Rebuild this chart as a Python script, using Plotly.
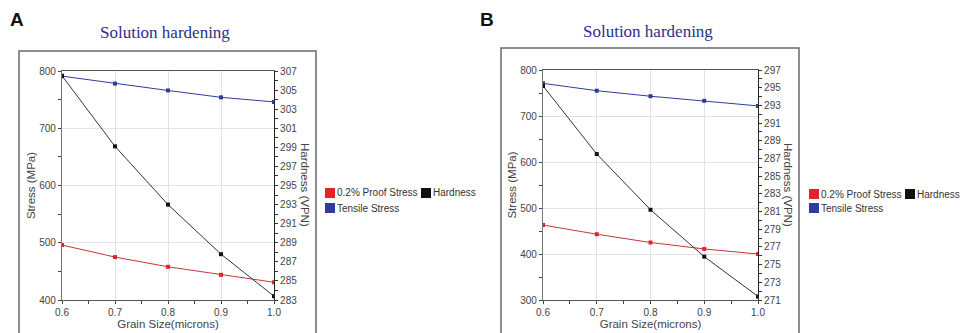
import plotly.graph_objects as go

grain = [0.6, 0.7, 0.8, 0.9, 1.0]

# Panel A
a_tensile = [791, 778, 766, 754, 746]
a_proof = [496, 475, 458, 444, 431]
a_hard = [306.5, 299.1, 293.0, 287.8, 283.4]

# Panel B
b_tensile = [771, 755, 743, 733, 722]
b_proof = [463, 443, 425, 411, 400]
b_hard = [295.2, 287.5, 281.2, 275.9, 271.4]

panel_labels = ["A", "B"]
title_text = "Solution hardening"
legend_names = ["0.2% Proof Stress", "Hardness", "Tensile Stress"]

RED = "#e3232a"
REDL = "#c8343a"
BLUE = "#2f3c9e"
BLACK = "#111111"
W, H = 960, 333

fig = go.Figure()

def add_panel(xa, yl, yr, tensile, proof, hard):
    fig.add_trace(go.Scatter(x=grain, y=tensile, xaxis=xa, yaxis=yl, mode="lines+markers",
                             line=dict(color=BLUE, width=1), marker=dict(symbol="square", size=4, color=BLUE),
                             showlegend=False, name="Tensile Stress"))
    fig.add_trace(go.Scatter(x=grain, y=proof, xaxis=xa, yaxis=yl, mode="lines+markers",
                             line=dict(color=REDL, width=1), marker=dict(symbol="square", size=4, color=RED),
                             showlegend=False, name="0.2% Proof Stress"))
    fig.add_trace(go.Scatter(x=grain, y=hard, xaxis=xa, yaxis=yr, mode="lines+markers",
                             line=dict(color="#333333", width=1), marker=dict(symbol="square", size=4, color=BLACK),
                             showlegend=False, name="Hardness"))

add_panel("x", "y", "y2", a_tensile, a_proof, a_hard)
add_panel("x2", "y3", "y4", b_tensile, b_proof, b_hard)

tickfont = dict(family="Liberation Sans, Arial", size=10, color="#444444")
titlefont = dict(family="Liberation Sans, Arial", size=11.5, color="#444444")
TK = "#444444"

def xaxis_cfg(dom, anchor):
    return dict(domain=dom, anchor=anchor, range=[0.6, 1.0], dtick=0.1, tick0=0.6, tickformat=".1f",
                showgrid=True, gridcolor="#e2e2e2", gridwidth=1, zeroline=False,
                showline=True, linecolor="#555555", linewidth=1.2, mirror=True,
                ticks="outside", ticklen=3, tickcolor=TK,
                minor=dict(dtick=0.05, ticks="outside", ticklen=3, tickcolor=TK, showgrid=False),
                tickfont=tickfont, title=dict(text="Grain Size(microns)", font=titlefont, standoff=0),
                automargin=False, fixedrange=True)

def xinner_cfg(overlay, anchor):
    return dict(overlaying=overlay, anchor=anchor, range=[0.6, 1.0], dtick=0.1, tick0=0.6,
                showgrid=False, zeroline=False, showline=False, showticklabels=False,
                ticks="inside", ticklen=3, tickcolor=TK,
                minor=dict(dtick=0.05, ticks="inside", ticklen=3, tickcolor=TK, showgrid=False),
                automargin=False, fixedrange=True)

def yleft_cfg(dom, anchor, rng):
    return dict(domain=dom, anchor=anchor, range=rng, dtick=100, tick0=0,
                showgrid=True, gridcolor="#e2e2e2", gridwidth=1, zeroline=False,
                showline=True, linecolor="#777777", linewidth=1.2,
                ticks="outside", ticklen=3, tickcolor=TK,
                minor=dict(dtick=50, ticks="outside", ticklen=3, tickcolor=TK, showgrid=False),
                tickfont=tickfont, title=dict(text="Stress (MPa)", font=titlefont, standoff=1),
                automargin=False, fixedrange=True)

def yleft_inner_cfg(overlay, anchor, rng):
    return dict(overlaying=overlay, anchor=anchor, range=rng, dtick=100, tick0=0,
                showgrid=False, zeroline=False, showline=False, showticklabels=False,
                ticks="inside", ticklen=3, tickcolor=TK,
                minor=dict(dtick=50, ticks="inside", ticklen=3, tickcolor=TK, showgrid=False),
                automargin=False, fixedrange=True)

def yright_cfg(anchor, overlay, rng, labels=True, ticks="outside"):
    return dict(overlaying=overlay, anchor=anchor, side="right", range=rng, dtick=2, tick0=rng[0],
                showgrid=False, zeroline=False, showline=labels, linecolor="#222222", linewidth=1.2,
                ticks=ticks, ticklen=3, tickcolor="#333333", showticklabels=labels,
                minor=dict(dtick=1, ticks=ticks, ticklen=3, tickcolor="#333333"),
                tickfont=tickfont, automargin=False, fixedrange=True)

ydomA = [33 / H, 262 / H]
ydomB = [33 / H, 263 / H]
fig.update_layout(
    width=W, height=H, autosize=False, margin=dict(l=0, r=0, t=0, b=0, autoexpand=False),
    paper_bgcolor="white", plot_bgcolor="white", showlegend=False,
    xaxis=xaxis_cfg([62 / W, 274 / W], "y"),
    yaxis=yleft_cfg(ydomA, "x", [400, 800]),
    yaxis2=yright_cfg("x", "y", [283, 307]),
    xaxis2=xaxis_cfg([543 / W, 758 / W], "y3"),
    yaxis3=yleft_cfg(ydomB, "x2", [300, 800]),
    yaxis4=yright_cfg("x2", "y3", [271, 297]),
    # inward halves of the crossing ticks
    xaxis3=xinner_cfg("x", "y"),
    xaxis4=xinner_cfg("x2", "y3"),
    yaxis5=yleft_inner_cfg("y", "x", [400, 800]),
    yaxis6=yleft_inner_cfg("y3", "x2", [300, 800]),
    yaxis7=yright_cfg("x", "y", [283, 307], labels=False, ticks="inside"),
    yaxis8=yright_cfg("x2", "y3", [271, 297], labels=False, ticks="inside"),
)

def px(x):
    return x / W

def py(y):
    return (H - y) / H

shapes = []
annotations = []

# panel frames
for (x0, x1, top) in [(19, 316, 51), (501, 799, 48)]:
    shapes.append(dict(type="rect", xref="paper", yref="paper", x0=px(x0), x1=px(x1), y0=py(345), y1=py(top),
                       line=dict(color="#6a6a6a", width=1.5), fillcolor="rgba(0,0,0,0)", layer="below"))

def ann(text, x, y, font, xanchor="center", textangle=0):
    annotations.append(dict(text=text, x=px(x), y=py(y), xref="paper", yref="paper",
                            xanchor=xanchor, yanchor="middle", showarrow=False, textangle=textangle,
                            font=font, borderpad=0))

# panel letters and titles
for lab, lx, ly, tx, ty in [("A", 17, 19, 165, 33), ("B", 487, 20, 648, 31)]:
    ann("<b>%s</b>" % lab, lx, ly, dict(family="Liberation Sans, Arial", size=19, color="#111111"))
    ann(title_text, tx, ty, dict(family="Liberation Serif, Times New Roman", size=17, color="#2e2e8c"))

# right-axis titles
for hx in [305, 788]:
    ann("Hardness (VPN)", hx, 185, titlefont, textangle=90)

# legends
legend_colors = [RED, BLACK, BLUE]
legfont = dict(family="Liberation Sans, Arial", size=10, color="#333333")
for (lx0, bx, ry1, ry2) in [(325, 421, 193, 208), (809, 905, 194, 208)]:
    items = [(lx0, ry1, legend_names[0], legend_colors[0]),
             (bx, ry1, legend_names[1], legend_colors[1]),
             (lx0, ry2, legend_names[2], legend_colors[2])]
    for (x, y, name, col) in items:
        shapes.append(dict(type="rect", xref="paper", yref="paper", x0=px(x), x1=px(x + 10),
                           y0=py(y + 5), y1=py(y - 5), line=dict(width=0), fillcolor=col))
        ann(name, x + 11, y, legfont, xanchor="left")

fig.update_layout(shapes=shapes, annotations=annotations)
fig.write_html("out.html")
